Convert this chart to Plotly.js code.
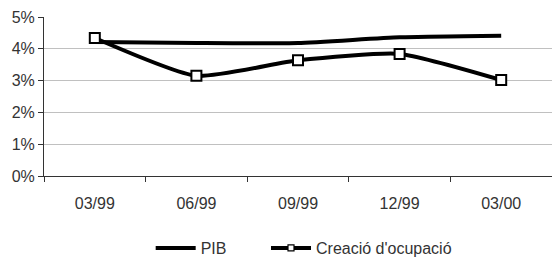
<!DOCTYPE html>
<html>
<head>
<meta charset="utf-8">
<script src="https://cdn.plot.ly/plotly-3.0.1.min.js"></script>
<style>html,body{margin:0;padding:0;background:#fff;}#chart{width:552px;height:257px;}</style>
</head>
<body>
<div id="chart"></div>
<script>
const categories = ["03/99", "06/99", "09/99", "12/99", "03/00"];
const pib = [4.21, 4.18, 4.18, 4.36, 4.41];
const ocupacio = [4.34, 3.15, 3.64, 3.84, 3.02];
const yTicks = [0, 1, 2, 3, 4, 5];
const yTickLabels = ["0%", "1%", "2%", "3%", "4%", "5%"];

const font = {family: "Liberation Sans, Arial, sans-serif", size: 16, color: "#333"};

const traces = [
  {
    x: categories, y: pib, name: "PIB", type: "scatter", mode: "lines", legend: "legend",
    line: {color: "#000", width: 4, shape: "spline", smoothing: 0.55}
  },
  {
    x: categories, y: ocupacio, name: "Creació d'ocupació", type: "scatter", mode: "lines+markers",
    legend: "legend2",
    line: {color: "#000", width: 4, shape: "spline", smoothing: 0.55},
    marker: {symbol: "square", size: 10, color: "#fff", line: {color: "#000", width: 2}}
  }
];

const legendBase = {orientation: "h", xanchor: "left", y: -0.453, yanchor: "middle", font: font, itemwidth: 40};

const layout = {
  width: 552, height: 257,
  margin: {l: 44, r: 0, t: 17, b: 81, autoexpand: false},
  paper_bgcolor: "#fff", plot_bgcolor: "#fff",
  font: font,
  showlegend: true,
  legend: Object.assign({}, legendBase, {x: 0.21}),
  legend2: Object.assign({}, legendBase, {x: 0.437}),
  xaxis: {
    type: "category", categoryarray: categories, tickson: "boundaries",
    ticks: "outside", ticklen: 5, tickcolor: "#333", ticklabelstandoff: 13,
    showline: true, linecolor: "#333", linewidth: 1,
    showgrid: false, zeroline: false, range: [-0.5, 4.5], fixedrange: true, automargin: false
  },
  yaxis: {
    range: [0, 5], tickvals: yTicks, ticktext: yTickLabels,
    ticks: "outside", ticklen: 5, tickcolor: "#333",
    showline: true, linecolor: "#333", linewidth: 1,
    showgrid: true, gridcolor: "#c0c0c0", gridwidth: 1,
    zeroline: false, fixedrange: true, automargin: false
  }
};

Plotly.newPlot("chart", traces, layout, {displayModeBar: false, staticPlot: true}).then(function (gd) {
  gd.querySelectorAll(".legendpoints path.scatterpts").forEach(function (p) {
    const t = p.getAttribute("transform") || "";
    p.setAttribute("transform", t + " scale(0.6)");
  });
});
</script>
</body>
</html>
